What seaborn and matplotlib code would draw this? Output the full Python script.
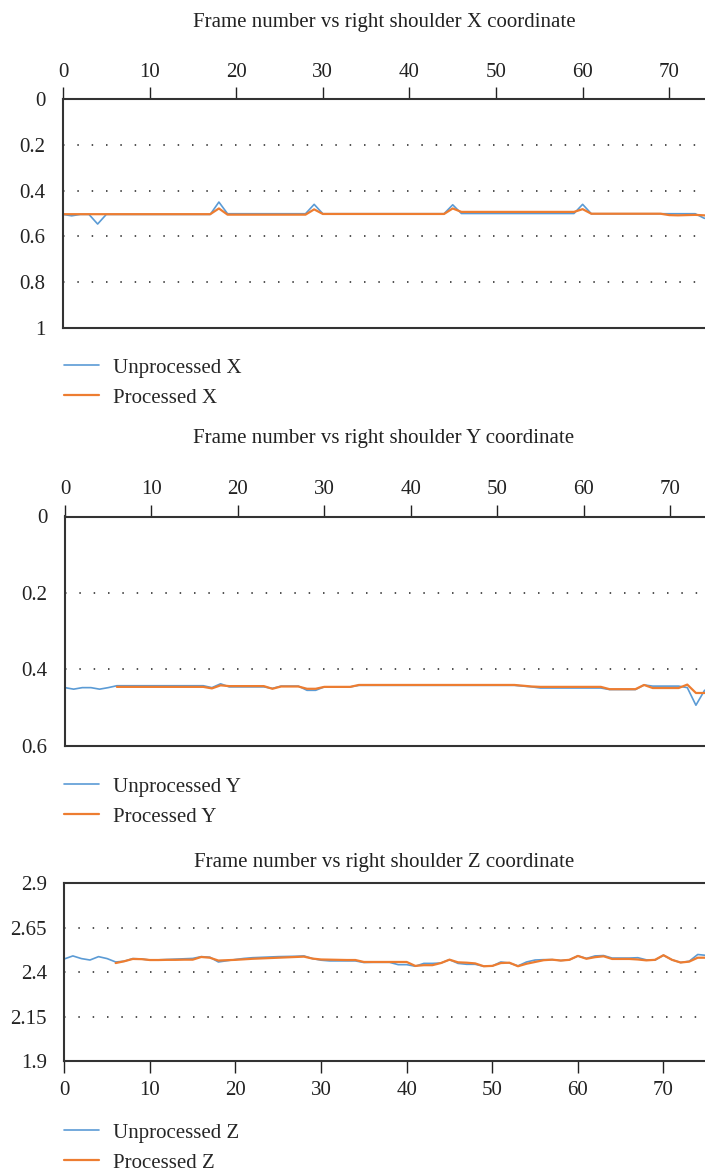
import numpy as np
import pandas as pd
import seaborn as sns
import matplotlib.pyplot as plt
from matplotlib.ticker import FixedLocator, FixedFormatter

sns.set_style("white")
plt.rcParams["font.family"] = ["Liberation Serif", "DejaVu Serif"]

nan = np.nan
frames = list(range(76))

# right shoulder X
raw_x = [0.504, 0.510, 0.504, 0.504, 0.546, 0.504, 0.504, 0.504, 0.504, 0.504,
         0.504, 0.504, 0.504, 0.504, 0.504, 0.504, 0.504, 0.504, 0.450, 0.501,
         0.501, 0.501, 0.501, 0.501, 0.501, 0.501, 0.501, 0.501, 0.501, 0.460,
         0.501, 0.501, 0.501, 0.501, 0.501, 0.501, 0.501, 0.501, 0.501, 0.501,
         0.501, 0.501, 0.501, 0.501, 0.501, 0.462, 0.500, 0.500, 0.500, 0.500,
         0.500, 0.500, 0.500, 0.500, 0.500, 0.500, 0.500, 0.500, 0.500, 0.500,
         0.460, 0.501, 0.501, 0.501, 0.501, 0.501, 0.501, 0.501, 0.501, 0.501,
         0.501, 0.501, 0.501, 0.501, 0.520, 0.530]
proc_x = [0.503, 0.503, 0.503, 0.503, 0.503, 0.503, 0.503, 0.503, 0.503, 0.503,
          0.503, 0.503, 0.503, 0.503, 0.503, 0.503, 0.503, 0.503, 0.478, 0.505,
          0.505, 0.505, 0.505, 0.505, 0.505, 0.505, 0.505, 0.505, 0.505, 0.482,
          0.502, 0.502, 0.502, 0.502, 0.502, 0.502, 0.502, 0.502, 0.502, 0.502,
          0.502, 0.502, 0.502, 0.502, 0.502, 0.478, 0.493, 0.493, 0.493, 0.493,
          0.493, 0.493, 0.493, 0.493, 0.493, 0.493, 0.493, 0.493, 0.493, 0.493,
          0.481, 0.501, 0.501, 0.501, 0.501, 0.501, 0.501, 0.501, 0.501, 0.501,
          0.507, 0.508, 0.507, 0.506, 0.508, 0.512]

# right shoulder Y
raw_y = [0.448, 0.452, 0.448, 0.448, 0.452, 0.448, 0.443, 0.443, 0.443, 0.443,
         0.443, 0.443, 0.443, 0.443, 0.443, 0.443, 0.443, 0.448, 0.438, 0.446,
         0.446, 0.446, 0.446, 0.446, 0.450, 0.444, 0.444, 0.444, 0.455, 0.455,
         0.446, 0.446, 0.446, 0.446, 0.442, 0.442, 0.442, 0.442, 0.442, 0.442,
         0.442, 0.442, 0.442, 0.442, 0.442, 0.442, 0.442, 0.442, 0.442, 0.442,
         0.442, 0.442, 0.442, 0.444, 0.446, 0.449, 0.449, 0.449, 0.449, 0.449,
         0.449, 0.449, 0.449, 0.453, 0.453, 0.453, 0.453, 0.441, 0.444, 0.444,
         0.444, 0.444, 0.448, 0.494, 0.455, 0.450]
proc_y = [nan, nan, nan, nan, nan, nan, 0.446, 0.446, 0.446, 0.446,
          0.446, 0.446, 0.446, 0.446, 0.446, 0.446, 0.446, 0.450, 0.442, 0.444,
          0.444, 0.444, 0.444, 0.444, 0.451, 0.445, 0.445, 0.445, 0.451, 0.451,
          0.446, 0.446, 0.446, 0.446, 0.441, 0.441, 0.441, 0.441, 0.441, 0.441,
          0.441, 0.441, 0.441, 0.441, 0.441, 0.441, 0.441, 0.441, 0.441, 0.441,
          0.441, 0.441, 0.441, 0.443, 0.445, 0.446, 0.446, 0.446, 0.446, 0.446,
          0.446, 0.446, 0.446, 0.452, 0.452, 0.452, 0.452, 0.441, 0.449, 0.449,
          0.449, 0.449, 0.440, 0.462, 0.462, 0.458]

# right shoulder Z
raw_z = [2.475, 2.492, 2.477, 2.469, 2.488, 2.477, 2.458, 2.462, 2.477, 2.475,
         2.469, 2.470, 2.472, 2.474, 2.476, 2.478, 2.488, 2.485, 2.458, 2.465,
         2.472, 2.478, 2.482, 2.484, 2.486, 2.488, 2.489, 2.490, 2.492, 2.477,
         2.468, 2.464, 2.464, 2.464, 2.464, 2.455, 2.456, 2.456, 2.456, 2.443,
         2.443, 2.434, 2.450, 2.450, 2.452, 2.471, 2.450, 2.445, 2.445, 2.434,
         2.435, 2.458, 2.452, 2.436, 2.458, 2.469, 2.471, 2.471, 2.466, 2.470,
         2.492, 2.478, 2.492, 2.494, 2.480, 2.480, 2.480, 2.482, 2.470, 2.468,
         2.496, 2.470, 2.455, 2.462, 2.500, 2.495]
proc_z = [nan, nan, nan, nan, nan, nan, 2.452, 2.462, 2.475, 2.474,
          2.469, 2.469, 2.470, 2.470, 2.471, 2.471, 2.486, 2.482, 2.466, 2.468,
          2.470, 2.473, 2.476, 2.478, 2.480, 2.482, 2.484, 2.486, 2.488, 2.477,
          2.472, 2.471, 2.470, 2.469, 2.469, 2.458, 2.458, 2.458, 2.458, 2.458,
          2.458, 2.436, 2.440, 2.440, 2.452, 2.471, 2.456, 2.454, 2.450, 2.434,
          2.436, 2.452, 2.454, 2.434, 2.448, 2.458, 2.468, 2.471, 2.466, 2.470,
          2.492, 2.476, 2.485, 2.490, 2.475, 2.475, 2.475, 2.472, 2.467, 2.470,
          2.496, 2.470, 2.455, 2.460, 2.482, 2.482]

ticks_x = [0, 10, 20, 30, 40, 50, 60, 70]
BLUE = "#5B9BD5"
ORANGE = "#ED7D31"
W, H = 705, 1172
FS = 15

fig = plt.figure(figsize=(W / 100, H / 100), dpi=100)


def panel(box, raw, proc, name, ylim, yticks, ylabels, xmax, top, title_y, leg_y):
    l, t, b = box
    ax = fig.add_axes([l / W, 1 - b / H, (W - l) / W, (b - t) / H])
    sns.lineplot(x=frames, y=raw, ax=ax, color=BLUE, lw=1.2, label="Unprocessed " + name)
    sns.lineplot(x=frames, y=proc, ax=ax, color=ORANGE, lw=1.6, label="Processed " + name)
    ax.set_xlim(0, xmax)
    ax.set_ylim(*ylim)
    ax.set_xlabel("")
    ax.set_ylabel("")
    ax.yaxis.set_major_locator(FixedLocator(yticks))
    ax.yaxis.set_major_formatter(FixedFormatter(ylabels))
    ax.xaxis.set_major_locator(FixedLocator(ticks_x))
    if top:
        ax.xaxis.tick_top()
        ax.tick_params(axis="x", pad=4)
    else:
        ax.xaxis.tick_bottom()
        ax.tick_params(axis="x", pad=6)
    ax.tick_params(axis="both", labelsize=FS, colors="#222", length=8.5, width=1, direction="out")
    ax.tick_params(axis="y", pad=4)
    ax.grid(False)
    ax.yaxis.grid(True, linestyle=(0, (0.9, 7.7)), color="#333", lw=1.2)
    ax.spines["right"].set_visible(False)
    for s in ["left", "top", "bottom"]:
        ax.spines[s].set_color("#333")
        ax.spines[s].set_linewidth(1.5)
    ax.legend(loc="upper left", bbox_to_anchor=(64 / W, 1 - leg_y / H),
              bbox_transform=fig.transFigure, frameon=False, fontsize=FS,
              borderpad=0, borderaxespad=0, handlelength=1.7, handletextpad=0.65,
              labelspacing=0.5)
    fig.text(384 / W, 1 - title_y / H, "Frame number vs right shoulder " + name + " coordinate",
             ha="center", va="center", fontsize=FS, color="#222")
    return ax


panel((63, 99, 328), raw_x, proc_x, "X", (1, 0), [0, 0.2, 0.4, 0.6, 0.8, 1],
      ["0", "0.2", "0.4", "0.6", "0.8", "1"], 74.13, True, 22, 358)
panel((65, 516.5, 745.7), raw_y, proc_y, "Y", (0.6, 0), [0, 0.2, 0.4, 0.6],
      ["0", "0.2", "0.4", "0.6"], 74.05, True, 438, 777)
panel((64.3, 883.3, 1061.3), raw_z, proc_z, "Z", (1.9, 2.9), [1.9, 2.15, 2.4, 2.65, 2.9],
      ["1.9", "2.15", "2.4", "2.65", "2.9"], 74.85, False, 863, 1123)

fig.savefig("out.png", dpi=100)
